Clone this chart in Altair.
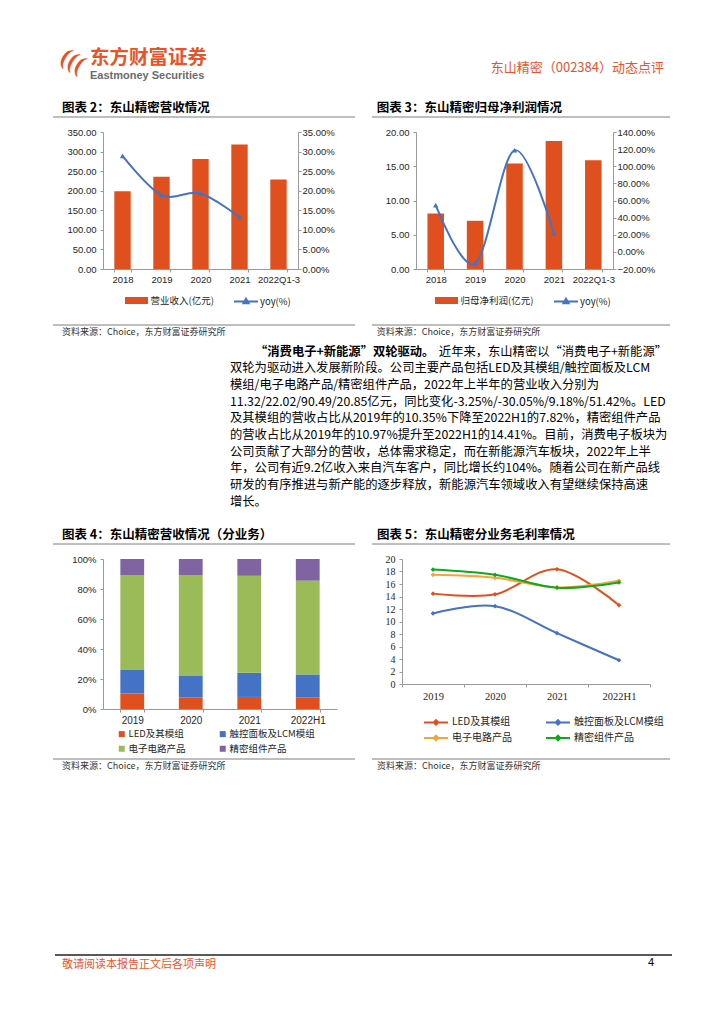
import altair as alt
import pandas as pd

FONT_CJK = "Noto Sans CJK SC"
FONT_NUM = "Liberation Sans"
FONT_SERIF = "Liberation Serif"
BRAND = "#E8542A"
BAR_RED = "#E0501E"
BLUE = "#4472C4"
GREEN_BAR = "#9BBB59"
PURPLE = "#8064A2"
LINE_ORANGE = "#F5A33B"
LINE_GREEN = "#12A81E"
AXIS_GRAY = "#9a9a9a"
TEXT_DARK = "#262626"

# ---------------- text content ----------------
logo_cn = "东方财富证券"
logo_en = "Eastmoney Securities"
logo_mark = "((("
header_right = "东山精密（002384）动态点评"
footer_note = "敬请阅读本报告正文后各项声明"
page_number = "4"
source_text = "资料来源：Choice，东方财富证券研究所"
title_2 = "图表 2：东山精密营收情况"
title_3 = "图表 3：东山精密归母净利润情况"
title_4 = "图表 4：东山精密营收情况（分业务）"
title_5 = "图表 5：东山精密分业务毛利率情况"

para_lead = "“消费电子+新能源”双轮驱动。"
para_first_rest = "近年来，东山精密以“消费电子+新能源”"
para_lines = [
    "双轮为驱动进入发展新阶段。公司主要产品包括LED及其模组/触控面板及LCM",
    "模组/电子电路产品/精密组件产品，2022年上半年的营业收入分别为",
    "11.32/22.02/90.49/20.85亿元，同比变化-3.25%/-30.05%/9.18%/51.42%。LED",
    "及其模组的营收占比从2019年的10.35%下降至2022H1的7.82%，精密组件产品",
    "的营收占比从2019年的10.97%提升至2022H1的14.41%。目前，消费电子板块为",
    "公司贡献了大部分的营收，总体需求稳定，而在新能源汽车板块，2022年上半",
    "年，公司有近9.2亿收入来自汽车客户，同比增长约104%。随着公司在新产品线",
    "研发的有序推进与新产能的逐步释放，新能源汽车领域收入有望继续保持高速",
    "增长。",
]

# ---------------- chart data ----------------
years_a = ["2018", "2019", "2020", "2021", "2022Q1-3"]
revenue = [198.4, 235.5, 280.9, 317.9, 228.5]
revenue_yoy = [28.9, 18.9, 19.3, 13.2]
net_profit = [8.10, 7.04, 15.39, 18.69, 15.87]
net_profit_yoy = [54.6, -13.4, 118.6, 21.6]
series_rev = "营业收入(亿元)"
series_np = "归母净利润(亿元)"
series_yoy = "yoy(%)"

years_b = ["2019", "2020", "2021", "2022H1"]
segments = ["LED及其模组", "触控面板及LCM模组", "电子电路产品", "精密组件产品"]
share_led = [10.35, 7.60, 8.05, 7.82]
share_touch = [16.05, 14.80, 16.15, 15.22]
share_circuit = [62.63, 66.90, 64.60, 62.55]
share_precision = [10.97, 10.70, 11.20, 14.41]

margin_led = [14.46, 14.35, 18.36, 12.61]
margin_touch = [11.29, 12.45, 8.13, 3.80]
margin_circuit = [17.47, 16.99, 15.46, 16.52]
margin_precision = [18.31, 17.47, 15.41, 16.25]

one = pd.DataFrame({"k": [0]})

# every row shares the same left overflow so the page stays 708 px wide
LEFT = 95


# ---------------- helpers ----------------
def frame(x1, x2, y1, y2):
    return alt.Chart(one).mark_rect(color="white", opacity=0, strokeWidth=0).encode(
        x=alt.value(x1), x2=alt.value(x2), y=alt.value(y1), y2=alt.value(y2))


def label(s, x, y, size, color=TEXT_DARK, weight="normal", font=FONT_CJK, align="left",
          angle=0):
    return alt.Chart(one).mark_text(
        fontSize=size, color=color, fontWeight=weight, font=font,
        align=align, baseline="middle", angle=angle).encode(
        x=alt.value(x), y=alt.value(y), text=alt.value(s))


def hline(x1, x2, y, color="#7f7f7f", w=1.0):
    return alt.Chart(one).mark_rule(color=color, strokeWidth=w).encode(
        x=alt.value(x1), x2=alt.value(x2), y=alt.value(y))


def axis_left(values, fmt=None, font=FONT_NUM, size=9.5):
    kw = dict(title=None, values=values, grid=False, domainColor=AXIS_GRAY,
              tickColor=AXIS_GRAY, tickSize=3, labelPadding=4, labelFont=font,
              labelFontSize=size, labelColor=TEXT_DARK)
    if fmt:
        kw["format"] = fmt
    return alt.Axis(**kw)


def axis_bottom(font=FONT_NUM, size=9.5, pad=2):
    return alt.Axis(title=None, labelAngle=0, grid=False, domainColor=AXIS_GRAY,
                    tickColor=AXIS_GRAY, tickSize=3, tickBand="extent",
                    labelPadding=pad, labelFont=font, labelFontSize=size,
                    labelColor=TEXT_DARK)


BAR_SYMBOL = "M-2.3,-0.7H2.3V0.7H-2.3Z"
TRI_LINE_SYMBOL = "M-2.4,0H2.4M0,-0.55L0.5,0.35H-0.5Z"
DIA_LINE_SYMBOL = "M-2.4,0H2.4M0,-0.45L0.45,0L0,0.45L-0.45,0Z"


def legend_common(**kw):
    base = dict(title=None, orient="none", labelFont=FONT_CJK, labelFontSize=9.5,
                labelColor=TEXT_DARK, padding=0, symbolSize=100)
    base.update(kw)
    return alt.Legend(**base)


# ---------------- header ----------------
header = alt.layer(
    frame(-LEFT, 708 - LEFT, 0, 88),
    label(logo_mark, -30, 53, 24, color=BRAND, weight="bold", font=FONT_SERIF,
          align="center", angle=30),
    label(logo_cn, -13, 50, 19.5, color=BRAND, weight="bold"),
    label(logo_en, -13, 68, 11, color="#6b6b6b", weight="bold", font=FONT_NUM),
    label(header_right, 561, 60, 13, color=BRAND, align="right"),
).properties(width=708 - LEFT, height=88)


# ---------------- chart 2 / 3 (bar + yoy line) ----------------
def bar_line_panel(values, yoy, series_bar, ydom, ystep, rdom, rstep, w, fr, title,
                   leg_bar_x, leg_line_x, key):
    fser = "series" + key
    df_bar = pd.DataFrame({"year": years_a, "value": values, fser: series_bar})
    df_line = pd.DataFrame({"year": years_a[:len(yoy)], "yoy": yoy, fser + "l": series_yoy})
    xenc = alt.X("year:N", sort=years_a,
                 scale=alt.Scale(paddingInner=0.58, paddingOuter=0.29),
                 axis=axis_bottom())
    left_vals = [ydom[0] + i * ystep for i in range(int(round((ydom[1] - ydom[0]) / ystep)) + 1)]
    right_vals = [rdom[0] + i * rstep for i in range(int(round((rdom[1] - rdom[0]) / rstep)) + 1)]
    bars = alt.Chart(df_bar).mark_bar(color=BAR_RED).encode(
        x=xenc,
        y=alt.Y("value:Q", scale=alt.Scale(domain=ydom, nice=False, zero=False),
                axis=axis_left(left_vals, fmt=".2f")),
        color=alt.Color(fser + ":N", scale=alt.Scale(domain=[series_bar], range=[BAR_RED]),
                        legend=legend_common(legendX=leg_bar_x, legendY=163.5,
                                             symbolType=BAR_SYMBOL, labelOffset=9,
                                             symbolStrokeWidth=0)),
    )
    line = alt.Chart(df_line).mark_line(
        interpolate="cardinal", strokeWidth=2,
        point=alt.OverlayMarkDef(shape="triangle-up", size=28, filled=True)).encode(
        x=xenc,
        y=alt.Y("yoy:Q", scale=alt.Scale(domain=rdom, nice=False, zero=False),
                axis=alt.Axis(orient="right", title=None, values=right_vals, grid=False,
                              domainColor=AXIS_GRAY, tickColor=AXIS_GRAY, tickSize=3,
                              labelPadding=1, labelFont=FONT_NUM, labelFontSize=9.5,
                              labelColor=TEXT_DARK,
                              labelExpr="format(datum.value, '.2f') + '%'")),
        color=alt.Color(fser + "l:N", scale=alt.Scale(domain=[series_yoy], range=[BLUE]),
                        legend=legend_common(legendX=leg_line_x, legendY=163.5,
                                             symbolType=TRI_LINE_SYMBOL, labelOffset=8,
                                             symbolStrokeWidth=2)),
    )
    x1, x2, y1, y2, tx, lx1, lx2 = fr
    deco = alt.layer(
        frame(x1, x2, y1, y2),
        label(title, tx, -24, 12.5, color="#000", weight="bold"),
        hline(lx1, lx2, -15),
        hline(lx1, lx2, 193),
        label(source_text, tx, 199.5, 9, color="#333"),
    )
    return alt.layer(deco, bars, line).resolve_scale(
        y="independent", color="independent").resolve_legend(
        color="independent").properties(width=w, height=137)


chart2 = bar_line_panel(revenue, revenue_yoy, series_rev, [0, 350], 50, [0, 35], 5,
                        195, (-LEFT, 263, -36, 208, -41, -50, 252), title_2, 28.5, 137, "a")
chart3 = bar_line_panel(net_profit, net_profit_yoy, series_np, [0, 20], 5, [-20, 140], 20,
                        197, (-50, 300, -36, 208, -39.3, -44, 254), title_3, 25.5, 144, "b")

row2 = alt.hconcat(chart2, chart3, spacing=0).resolve_scale(
    color="independent").resolve_legend(color="independent")

# ---------------- paragraph ----------------
PARA_SIZE = 12.3
para_layers = [frame(-LEFT, 708 - LEFT, 0, 175),
               label(para_lead, 152, 11.7, PARA_SIZE, color="#000", weight="bold"),
               label(para_first_rest, 564, 11.7, PARA_SIZE, color="#000", align="right")]
for i, s in enumerate(para_lines):
    para_layers.append(label(s, 127, 11.7 + 16.67 * (i + 1), PARA_SIZE, color="#000"))
para = alt.layer(*para_layers).properties(width=708 - LEFT, height=175)

# ---------------- chart 4 (stacked share) ----------------
share_cols = [share_led, share_touch, share_circuit, share_precision]
rows4 = []
for si, seg in enumerate(segments):
    for yi, yr in enumerate(years_b):
        rows4.append({"year": yr, "seg4": seg, "share": share_cols[si][yi], "ord": si})
df4 = pd.DataFrame(rows4)

bars4 = alt.Chart(df4).mark_bar().encode(
    x=alt.X("year:N", sort=years_b, scale=alt.Scale(paddingInner=0.593, paddingOuter=0.2965),
            axis=axis_bottom(size=10, pad=3)),
    y=alt.Y("share:Q", stack="normalize", scale=alt.Scale(domain=[0, 1], nice=False),
            axis=axis_left([0, 0.2, 0.4, 0.6, 0.8, 1.0], fmt=".0%")),
    color=alt.Color("seg4:N", sort=segments,
                    scale=alt.Scale(domain=segments, range=[BAR_RED, BLUE, GREEN_BAR, PURPLE]),
                    legend=legend_common(legendX=14, legendY=170, columns=2,
                                         direction="horizontal", symbolSize=36,
                                         symbolType="square", labelOffset=2, columnPadding=32,
                                         rowPadding=4, symbolStrokeWidth=0)),
    order=alt.Order("ord:Q"),
)
deco4 = alt.layer(
    frame(-LEFT, 263, -44, 221),
    label(title_4, -41, -24, 12.5, color="#000", weight="bold"),
    hline(-50, 252, -15),
    hline(-50, 252, 200),
    label(source_text, -41, 207, 9, color="#333"),
)
chart4 = alt.layer(deco4, bars4).properties(width=234, height=150)

# ---------------- chart 5 (margin lines) ----------------
margin_cols = [margin_led, margin_touch, margin_circuit, margin_precision]
rows5 = []
for si, seg in enumerate(segments):
    for yi, yr in enumerate(years_b):
        rows5.append({"year": yr, "seg5": seg, "margin": margin_cols[si][yi]})
df5 = pd.DataFrame(rows5)

lines5 = alt.Chart(df5).mark_line(
    interpolate="cardinal", strokeWidth=2,
    point=alt.OverlayMarkDef(shape="diamond", size=22, filled=True)).encode(
    x=alt.X("year:N", sort=years_b, scale=alt.Scale(paddingInner=0, paddingOuter=0),
            axis=axis_bottom(font=FONT_SERIF, size=10.5, pad=4)),
    y=alt.Y("margin:Q", scale=alt.Scale(domain=[0, 20], nice=False),
            axis=axis_left(list(range(0, 21, 2)), font=FONT_SERIF, size=10)),
    color=alt.Color("seg5:N", sort=segments,
                    scale=alt.Scale(domain=segments,
                                    range=[BAR_RED, BLUE, LINE_ORANGE, LINE_GREEN]),
                    legend=legend_common(legendX=28, legendY=157, columns=2,
                                         direction="horizontal",
                                         symbolType=DIA_LINE_SYMBOL, labelOffset=10,
                                         columnPadding=30, rowPadding=2,
                                         symbolStrokeWidth=2, labelFontSize=10)),
)
deco5 = alt.layer(
    frame(-36, 314, -44, 221),
    label(title_5, -25, -24, 12.5, color="#000", weight="bold"),
    hline(-30, 268, -15),
    hline(-30, 268, 200),
    label(source_text, -25, 207, 9, color="#333"),
)
chart5 = alt.layer(deco5, lines5).properties(width=248, height=125)

row4 = alt.hconcat(chart4, chart5, spacing=0).resolve_scale(
    color="independent").resolve_legend(color="independent")

# ---------------- footer ----------------
footer = alt.layer(
    frame(-LEFT, 708 - LEFT, 0, 236),
    hline(-48, 569, 175, color="#222222", w=1.5),
    label(footer_note, -41, 185, 11, color=BRAND),
    label(page_number, 545, 183, 11, color="#000", font=FONT_NUM),
).properties(width=708 - LEFT, height=236)

chart = alt.vconcat(header, row2, para, row4, footer, spacing=0).resolve_scale(
    color="independent").resolve_legend(color="independent").properties(
    padding=0).configure_view(stroke=None)

chart.save("out.html", embed_options={"renderer": "svg", "actions": False})
